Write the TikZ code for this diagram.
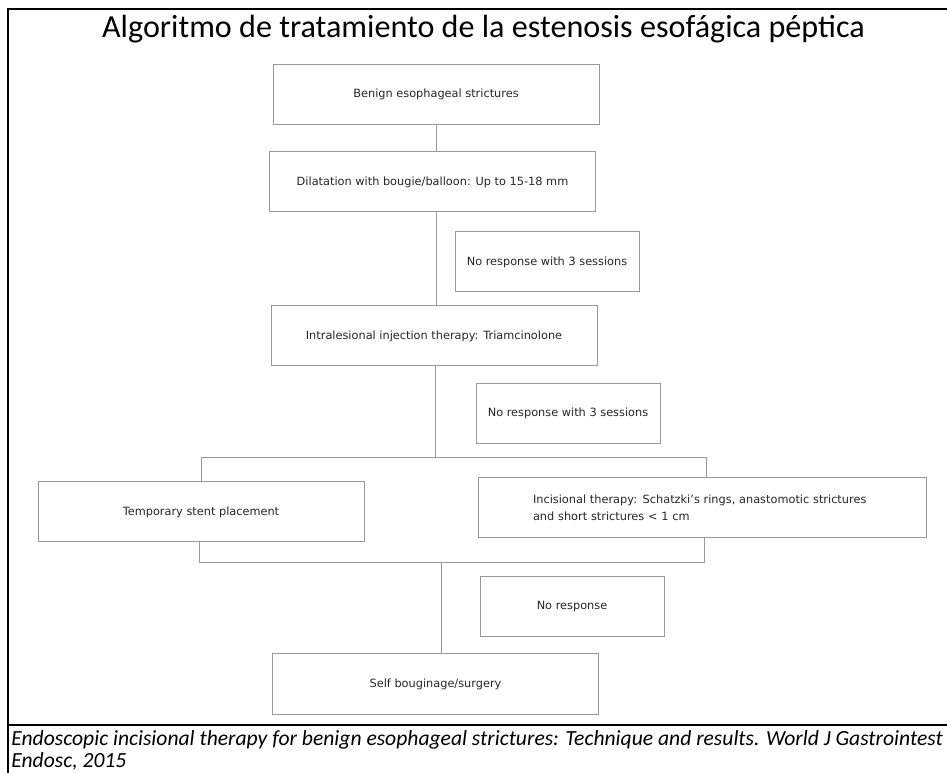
\documentclass[tikz,border=0pt]{standalone}
\usepackage{fontspec}
\setmainfont{DejaVu Sans}
\newfontfamily\titlefont{Carlito}
\usetikzlibrary{calc}

\begin{document}
\begin{tikzpicture}[x=0.75pt,y=-0.75pt,
	box/.style={draw=gray!80,line width=0.75pt,minimum width=244.5pt,
		minimum height=45pt,inner sep=0pt,text=black!85,
		font=\fontsize{8.5}{12.5}\selectfont},
	nrbox/.style={box,minimum width=138pt},
	link/.style={draw=gray!80,line width=0.75pt},
	frameline/.style={line width=1.5pt},
	source/.style={anchor=base west,inner sep=0pt,
		font=\titlefont\itshape\fontsize{16.2}{19.5}\selectfont}]

	\useasboundingbox (0,0) rectangle (947,773);

	% frame and texts
	\draw[frameline] (947,9) -- (8,9) -- (8,773);
	\draw[frameline] (8,725) -- (947,725);
	\node[anchor=base,font=\titlefont\fontsize{24.1}{28}\selectfont] (title) at (483.5,38)
		{Algoritmo de tratamiento de la estenosis esofágica péptica};
	\node[source] (srcA) at (11,745)
		{Endoscopic incisional therapy for benign esophageal strictures: Technique and results. World J Gastrointest};
	\node[source] (srcB) at (11,767) {Endosc, 2015};

	% boxes
	\node[box] (benign) at (436,94.5) {Benign esophageal strictures};
	\node[box] (dilat) at (432.5,182) {Dilatation with bougie/balloon: Up to 15-18 mm};
	\node[nrbox] (nrA) at (547,262) {No response with 3 sessions};
	\node[box] (inject) at (434,336) {Intralesional injection therapy: Triamcinolone};
	\node[nrbox] (nrB) at (568,413.5) {No response with 3 sessions};
	\node[box] (stent) at (201,512) {Temporary stent placement};
	\node[box,text width=253.5pt,inner xsep=41.25pt,align=left] (incis) at (702,508)
		{Incisional therapy: Schatzki's rings, anastomotic strictures\\and short strictures < 1 cm};
	\node[nrbox] (nrC) at (572,607) {No response};
	\node[box] (self) at (435.5,684) {Self bouginage/surgery};

	% connectors
	\coordinate (split) at (435,458);
	\coordinate (join) at (441,563);
	\path[link] (benign.south) -- (benign.south |- dilat.north);
	\path[link] (benign.south |- dilat.south) -- (benign.south |- inject.north);
	\path[link] (inject.south -| split) -- (split);
	\path[link] (stent.north) -- (stent.north |- split) -- (split -| 706,0) -- (706,0 |- incis.north);
	\path[link] (199,0 |- stent.south) -- (199,0 |- join) -- (704,0 |- join) -- (704,0 |- incis.south);
	\path[link] (join) -- (join |- self.north);
\end{tikzpicture}
\end{document}
